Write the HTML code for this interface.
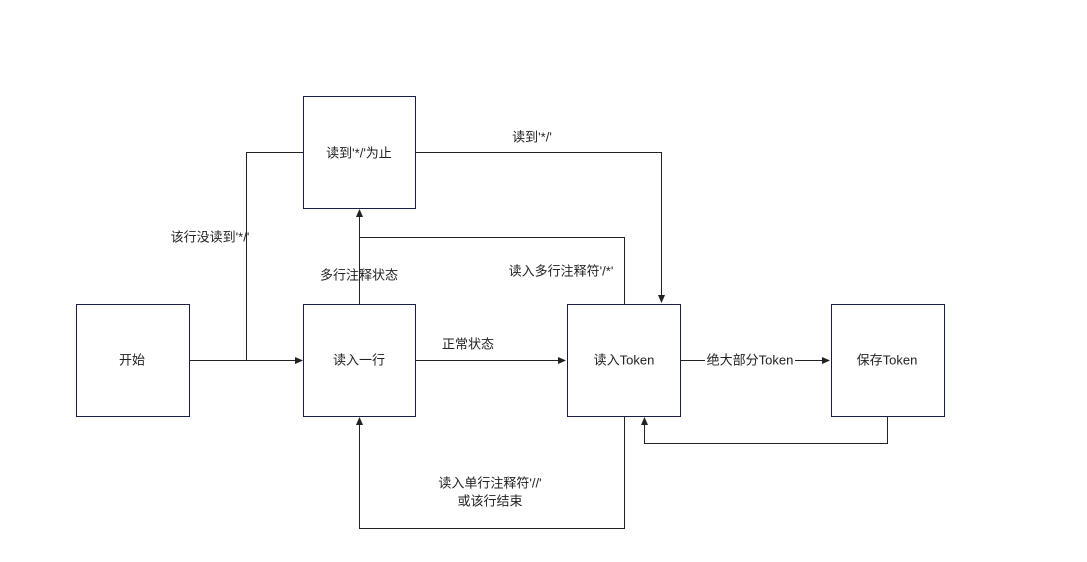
<!DOCTYPE html>
<html><head><meta charset="utf-8"><style>
body{margin:0;background:#fff;}
svg{display:block;font-family:"Liberation Sans","Noto Sans CJK SC",sans-serif;font-size:13px;}
</style></head><body>
<svg width="1087" height="562" viewBox="0 0 1087 562">
<defs><marker id="a" markerWidth="8" markerHeight="8" refX="7" refY="4" orient="auto" markerUnits="userSpaceOnUse"><path d="M0,0.5 L8,4 L0,7.5z" fill="#222"/></marker></defs>
<g fill="none" stroke="#222" stroke-width="1">
<path d="M189.5,360.5H302" marker-end="url(#a)"/>
<path d="M246.5,360.5V152.5H303"/>
<path d="M359.5,304V210" marker-end="url(#a)"/>
<path d="M624.5,304V237.5H359.5"/>
<path d="M415,152.5H661.5V302" marker-end="url(#a)"/>
<path d="M415,360.5H565" marker-end="url(#a)"/>
<path d="M680,360.5H829" marker-end="url(#a)"/>
<path d="M887.5,416V443.5H644.5V418" marker-end="url(#a)"/>
<path d="M624.5,416V528.5H359.5V418" marker-end="url(#a)"/>
</g>
<g fill="#fff" stroke="#1a1d4a" stroke-width="1">
<rect x="76.5" y="304.5" width="113" height="112"/>
<rect x="303.5" y="304.5" width="112" height="112"/>
<rect x="567.5" y="304.5" width="113" height="112"/>
<rect x="831.5" y="304.5" width="113" height="112"/>
<rect x="303.5" y="96.5" width="112" height="112"/>
</g>
<rect x="705" y="352" width="90" height="16" fill="#fff"/>
<g fill="#222" text-anchor="middle" dominant-baseline="central">
<text x="132" y="360">开始</text>
<text x="359" y="360">读入一行</text>
<text x="624" y="360">读入Token</text>
<text x="887" y="360">保存Token</text>
<text x="359" y="153">读到'*/'为止</text>
<text x="210" y="237">该行没读到'*/'</text>
<text x="359" y="275">多行注释状态</text>
<text x="561" y="271">读入多行注释符'/*'</text>
<text x="532" y="137">读到'*/'</text>
<text x="468" y="344">正常状态</text>
<text x="750" y="360">绝大部分Token</text>
<text x="490" y="483">读入单行注释符'//'</text>
<text x="490" y="501">或该行结束</text>
</g>
</svg>
</body></html>
